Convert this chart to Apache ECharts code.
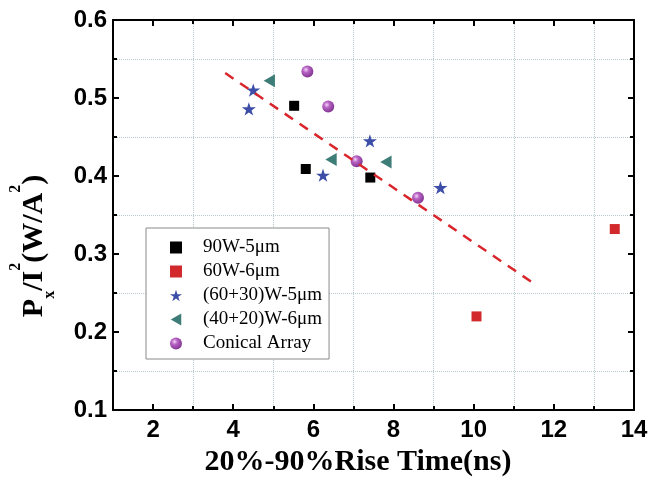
<!DOCTYPE html>
<html><head><meta charset="utf-8">
<script src="https://cdn.jsdelivr.net/npm/echarts@6/dist/echarts.min.js"></script>
<style>html,body{margin:0;padding:0;background:#fff}#c{width:657px;height:489px}</style>
</head><body><div id="c"></div>
<script>
// ---- data ----
const seriesNames = ['90W-5μm', '60W-6μm', '(60+30)W-5μm', '(40+20)W-6μm', 'Conical Array'];
const s90W5X = [5.52, 5.81, 7.42];
const s90W5Y = [0.490, 0.409, 0.398];
const s60W6X = [10.07, 13.52];
const s60W6Y = [0.220, 0.332];
const s6030X = [4.50, 4.39, 7.41, 6.24, 9.17];
const s6030Y = [0.510, 0.486, 0.445, 0.401, 0.385];
const s4020X = [4.90, 6.44, 7.81];
const s4020Y = [0.522, 0.421, 0.418];
const conicalX = [5.85, 6.37, 7.08, 8.61];
const conicalY = [0.534, 0.489, 0.419, 0.372];
const fitX = [3.80, 11.45];
const fitY = [0.532, 0.264];
const xMajorTicks = [2, 4, 6, 8, 10, 12, 14];
const xMinorTicks = [3, 5, 7, 9, 11, 13];
const xTitle = '20%-90%Rise Time(ns)';
const yTitle = '{m|P}{s|x}{m|/I}{p|2}{m|(W/A}{p|2}{m|)}';

const zip = (a, b) => a.map((v, i) => [v, b[i]]);
const BLACK = '#000';
const gridDot = { type: 'dotted', color: '#b7cad0', width: 1 };
const sansBold = { fontFamily: 'Liberation Sans, Arial, sans-serif', fontWeight: 'bold', fontSize: 24, color: BLACK };

function xAx(pos, ticks, len, line, labels, split) {
  return {
    type: 'value', min: 1, max: 14, position: pos,
    axisLine: { show: line, onZero: false, lineStyle: { color: BLACK, width: 2 } },
    axisTick: { show: true, inside: true, length: len, customValues: ticks, lineStyle: { color: BLACK, width: 2 } },
    axisLabel: labels ? Object.assign({ customValues: ticks, margin: 8 }, sansBold) : { show: false },
    splitLine: split ? { show: true, lineStyle: gridDot } : { show: false }
  };
}
function yAx(pos, labels, split) {
  return {
    type: 'value', min: 0.1, max: 0.6, interval: 0.1, position: pos,
    axisLine: { show: true, onZero: false, lineStyle: { color: BLACK, width: 2 } },
    axisTick: { show: true, inside: true, length: 6, lineStyle: { color: BLACK, width: 2 } },
    minorTick: { show: true, splitNumber: 2, length: 4, lineStyle: { color: BLACK, width: 2 } },
    axisLabel: labels ? Object.assign({ margin: 6, formatter: v => v.toFixed(1) }, sansBold) : { show: false },
    splitLine: { show: false },
    minorSplitLine: split ? { show: true, lineStyle: gridDot } : { show: false }
  };
}

const xAxes = [
  xAx('bottom', xMajorTicks, 6, true, true, false),
  xAx('bottom', xMinorTicks, 4, false, false, true),
  xAx('top', xMajorTicks, 6, true, false, false),
  xAx('top', xMinorTicks, 4, false, false, false)
];
Object.assign(xAxes[0], {
  name: xTitle, nameLocation: 'middle', nameGap: 34,
  nameTextStyle: { fontFamily: 'Liberation Serif, Times New Roman, serif', fontWeight: 'bold', fontSize: 30, color: BLACK, padding: [0, 31, 0, 0] }
});
const yAxes = [yAx('left', true, true), yAx('right', false, false)];
const serifB = 'Liberation Serif, Times New Roman, serif';
Object.assign(yAxes[0], {
  name: yTitle, nameLocation: 'middle', nameRotate: 90, nameGap: 52,
  nameTextStyle: {
    padding: [0, 62, 0, 0],
    rich: {
      m: { fontFamily: serifB, fontWeight: 'bold', fontSize: 30, color: BLACK, lineHeight: 53 },
      s: { fontFamily: serifB, fontWeight: 'bold', fontSize: 16, color: BLACK, verticalAlign: 'bottom', padding: [0, 0, 3, 0] },
      p: { fontFamily: serifB, fontWeight: 'bold', fontSize: 16, color: BLACK, verticalAlign: 'top' }
    }
  }
});

const starPath = 'path://M50,0 L61.2,34.5 L97.6,34.5 L68.2,55.9 L79.4,90.5 L50,69.1 L20.6,90.5 L31.8,55.9 L2.4,34.5 L38.8,34.5 Z';
const triLeftPath = 'path://M0,50 L87,0 L87,100 Z';
const sphere = {
  type: 'radial', x: 0.38, y: 0.35, r: 0.7,
  colorStops: [{ offset: 0, color: '#f3d6f6' }, { offset: 0.35, color: '#b763c4' }, { offset: 1, color: '#7d2f8c' }]
};

const chart = echarts.init(document.getElementById('c'), null, { renderer: 'canvas' });
chart.setOption({
  animation: false,
  backgroundColor: '#fff',
  grid: { left: 113, right: 23, top: 20, bottom: 79, containLabel: false },
  xAxis: xAxes,
  yAxis: yAxes,
  legend: {
    data: seriesNames, orient: 'vertical', left: 146, top: 228,
    padding: [10, 7, 6, 24], itemWidth: 12, itemHeight: 12, itemGap: 5,
    borderColor: '#8a8a8a', borderWidth: 1, backgroundColor: '#fff',
    textStyle: { fontFamily: serifB, fontSize: 19, color: BLACK, lineHeight: 19, padding: [0, 0, 0, 16] }
  },
  series: [
    { name: seriesNames[0], type: 'scatter', symbol: 'rect', symbolSize: 10, itemStyle: { color: '#000', opacity: 1 }, data: zip(s90W5X, s90W5Y) },
    { name: seriesNames[1], type: 'scatter', symbol: 'rect', symbolSize: 10, itemStyle: { color: '#d22a2c', opacity: 1 }, data: zip(s60W6X, s60W6Y) },
    { name: seriesNames[2], type: 'scatter', symbol: starPath, symbolKeepAspect: true, symbolSize: 14, itemStyle: { color: '#3c4ea8', opacity: 1 }, data: zip(s6030X, s6030Y) },
    { name: seriesNames[3], type: 'scatter', symbol: triLeftPath, symbolKeepAspect: true, symbolSize: 13, itemStyle: { color: '#3e7c78', opacity: 1 }, data: zip(s4020X, s4020Y) },
    { name: seriesNames[4], type: 'scatter', symbol: 'circle', symbolSize: 12, itemStyle: { color: sphere, opacity: 1 }, data: zip(conicalX, conicalY) },
    { name: 'fit', type: 'line', data: zip(fitX, fitY), symbol: 'none', silent: true, z: 5,
      lineStyle: { color: '#d8262c', width: 2.5, type: [10, 8] } }
  ]
});
</script></body></html>
